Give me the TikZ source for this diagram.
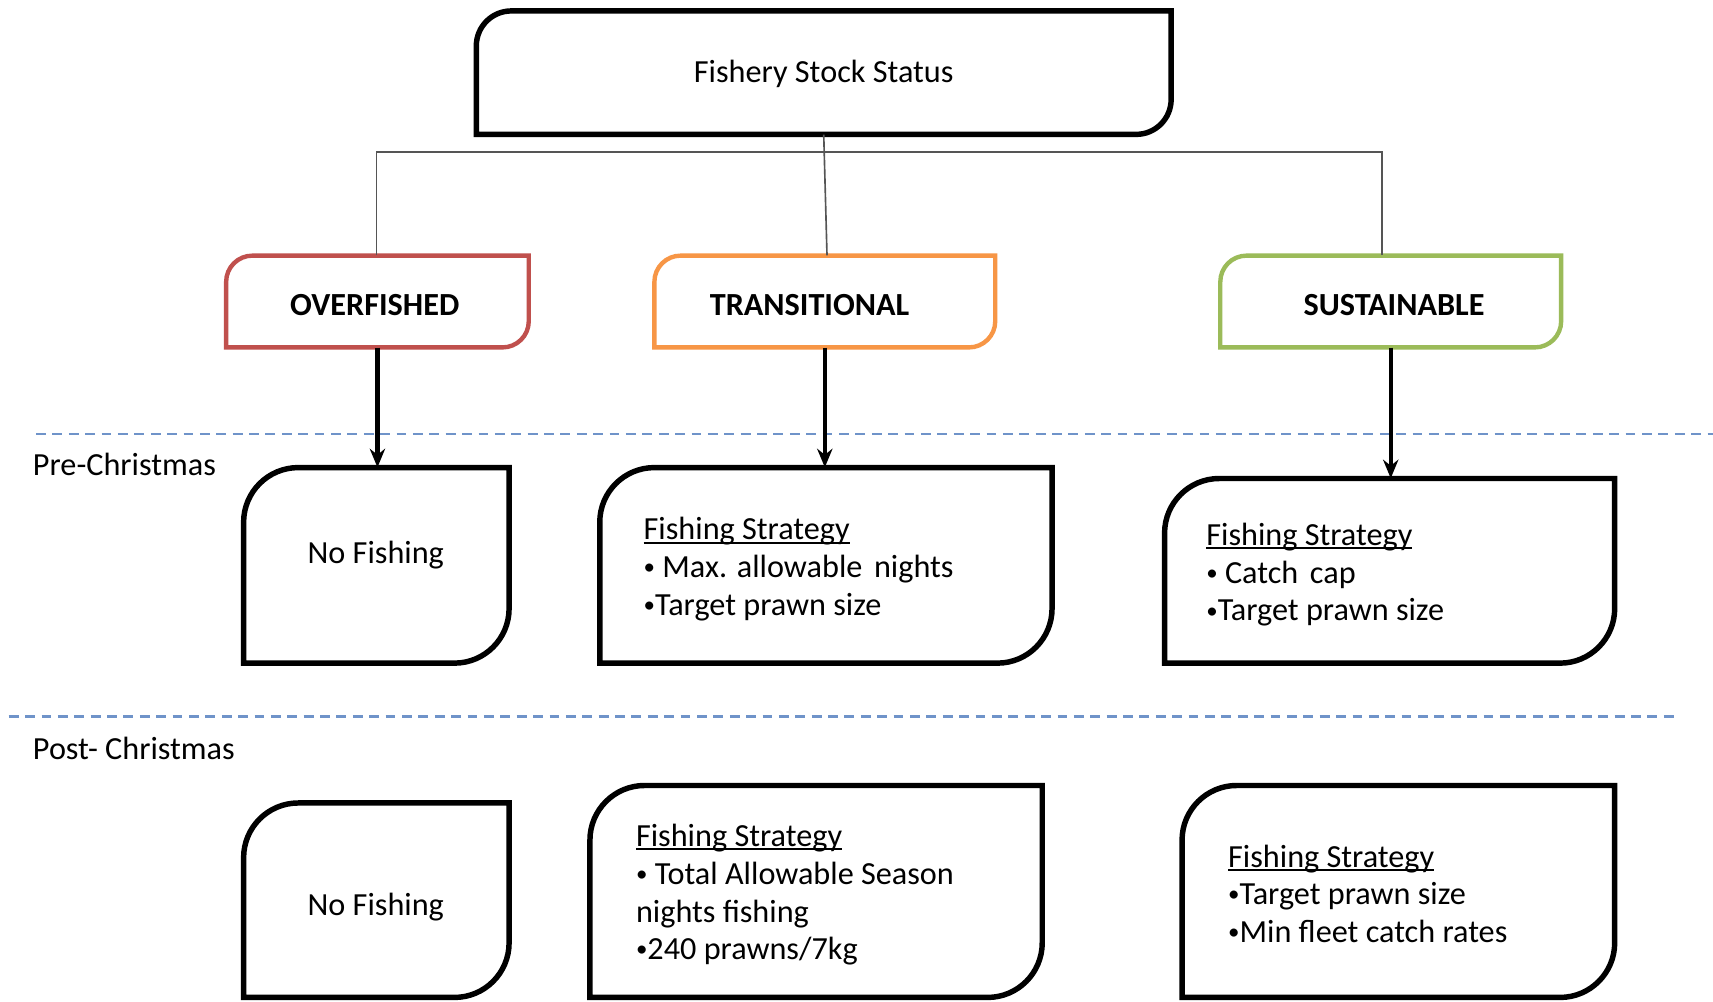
\documentclass[tikz,border=0pt]{standalone}
\usepackage{fontspec}
\setmainfont{Carlito}
\usetikzlibrary{arrows.meta,fit}
\definecolor{ovred}{HTML}{C0504D}
\definecolor{trorange}{HTML}{F79646}
\definecolor{susgreen}{HTML}{9BBB59}
\definecolor{dashblue}{HTML}{6F93C9}
\definecolor{linkgray}{HTML}{555555}
% style, name, x1, y1, x2, y2, radius
\newcommand{\rdshape}[7]{%
  \path (#3,#4) coordinate (#2-a) (#5,#6) coordinate (#2-b);
  \node[inner sep=0pt, fit=(#2-a)(#2-b)] (#2) {};
  \draw[#1] (#3,#6) -- ({#3},{#4+#7}) .. controls ({#3},{#4+0.448*#7}) and ({#3+0.448*#7},{#4}) .. ({#3+#7},{#4}) -- (#5,#4) -- ({#5},{#6-#7}) .. controls ({#5},{#6-0.448*#7}) and ({#5-0.448*#7},{#6}) .. ({#5-#7},{#6}) -- cycle;
}
\newcommand{\ulhead}[1]{\setbox0\hbox{#1}\rlap{\rule[-3.5pt]{\wd0}{2pt}}\box0}
\newcommand{\bul}{\raisebox{2.5pt}{\fontsize{21}{21}\selectfont•}}
\tikzset{
  mainbox/.style={draw=black, line width=5pt},
  ovbox/.style={draw=ovred, line width=4pt},
  trbox/.style={draw=trorange, line width=4pt},
  susbox/.style={draw=susgreen, line width=4pt},
  link/.style={draw=linkgray, line width=1.5pt},
  flow/.style={draw=black, line width=4pt, -{Stealth[length=17pt,width=14pt]}},
  sep/.style={draw=dashblue, line width=2.2pt, dash pattern=on 9pt off 6pt},
  lbl/.style={font=\fontsize{29.5}{34.5}\selectfont, inner sep=0pt},
  catlbl/.style={inner sep=0pt, font=\fontsize{29.5}{34.5}\selectfont\bfseries},
  blk/.style={lbl, align=left, anchor=west}
}
\begin{document}
\begin{tikzpicture}[x=1pt,y=-1pt]
\useasboundingbox (0,0) rectangle (1568,917);
\fill[white] (0,0) rectangle (1568,917);

% separators
\coordinate (s1a) at (33,397); \coordinate (s1b) at (1568,397);
\coordinate (s2a) at (8,656); \coordinate (s2b) at (1535,656);
\draw[sep] (s1a) -- (s1b);
\draw[sep] (s2a) -- (s2b);

% top box
\rdshape{mainbox}{top}{436}{10}{1072}{123}{32}
\node[lbl] (toptxt) at (754,68) {Fishery Stock Status};

% category boxes
\rdshape{ovbox}{ovf}{207}{234}{484}{318}{24}
\rdshape{trbox}{trn}{599}{234}{911}{318}{24}
\rdshape{susbox}{sus}{1117}{234}{1429}{318}{24}
\node[catlbl] (ovftxt) at (343,279) {OVERFISHED};
\node[catlbl] (trntxt) at (741,279) {TRANSITIONAL};
\node[catlbl] (sustxt) at (1276,279) {SUSTAINABLE};

% tree connectors
\coordinate (bus) at (755,139);
\draw[link] ([xshift=-1pt]ovf.north) |- (bus) -| ([xshift=-8pt]sus.north);
\draw[link] (top.south) -- ([xshift=2pt]trn.north);

% period labels
\node[lbl, anchor=west] (pre) at (30,425) {Pre-Christmas};
\node[lbl, anchor=west] (post) at (30,685) {Post- Christmas};

% pre-Christmas boxes
\rdshape{mainbox}{p1}{223}{428}{466}{607}{50}
\rdshape{mainbox}{p2}{549}{428}{963}{607}{50}
\rdshape{mainbox}{p3}{1066}{438}{1478}{607}{50}
\node[lbl] (p1txt) at (344,508) {No Fishing};
\node[blk] (p2txt) at (589,521) {\ulhead{Fishing Strategy}\\\bul\ Max. allowable\hspace{4pt} nights\\\bul Target prawn size};
\node[blk] (p3txt) at (1104,526) {\ulhead{Fishing Strategy}\\\bul\ Catch\hspace{4pt} cap\\\bul Target prawn size};

% post-Christmas boxes
\rdshape{mainbox}{q1}{223}{735}{466}{913}{50}
\rdshape{mainbox}{q2}{540}{719}{954}{913}{50}
\rdshape{mainbox}{q3}{1082}{719}{1478}{913}{50}
\node[lbl] (q1txt) at (344,830) {No Fishing};
\node[blk] (q2txt) at (582,819) {\ulhead{Fishing Strategy}\\\bul\ Total Allowable Season\\nights fishing\\\bul 240 prawns/7kg};
\node[blk] (q3txt) at (1124,818) {\ulhead{Fishing Strategy}\\\bul Target prawn size\\\bul Min fleet catch rates};

% arrows
\draw[flow] (ovf.south) -- (ovf.south |- p1.north);
\draw[flow] (trn.south) -- (trn.south |- p2.north);
\draw[flow] (sus.south) -- (sus.south |- p3.north);
\end{tikzpicture}
\end{document}
